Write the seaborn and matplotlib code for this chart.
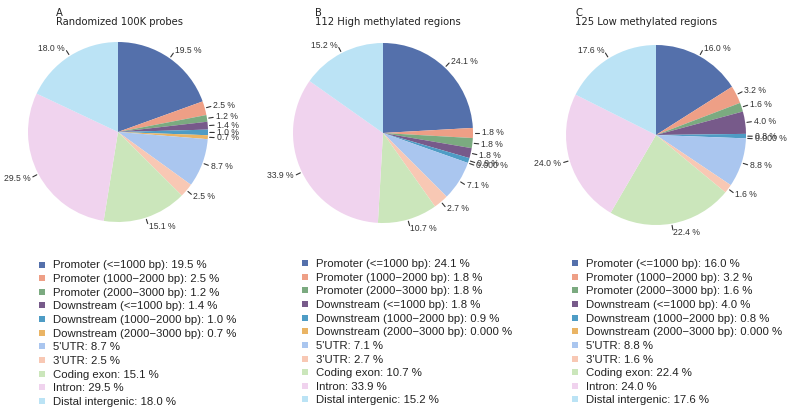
import numpy as np
import matplotlib
matplotlib.use("Agg")
import matplotlib.pyplot as plt
import seaborn as sns
from matplotlib.lines import Line2D

categories = [
    "Promoter (<=1000 bp)",
    "Promoter (1000\u22122000 bp)",
    "Promoter (2000\u22123000 bp)",
    "Downstream (<=1000 bp)",
    "Downstream (1000\u22122000 bp)",
    "Downstream (2000\u22123000 bp)",
    "5'UTR",
    "3'UTR",
    "Coding exon",
    "Intron",
    "Distal intergenic",
]
values_a = [19.5, 2.5, 1.2, 1.4, 1.0, 0.7, 8.7, 2.5, 15.1, 29.5, 18.0]
labels_a = ["19.5", "2.5", "1.2", "1.4", "1.0", "0.7", "8.7", "2.5", "15.1", "29.5", "18.0"]
values_b = [24.1, 1.8, 1.8, 1.8, 0.9, 0.0, 7.1, 2.7, 10.7, 33.9, 15.2]
labels_b = ["24.1", "1.8", "1.8", "1.8", "0.9", "0.000", "7.1", "2.7", "10.7", "33.9", "15.2"]
values_c = [16.0, 3.2, 1.6, 4.0, 0.8, 0.0, 8.8, 1.6, 22.4, 24.0, 17.6]
labels_c = ["16.0", "3.2", "1.6", "4.0", "0.8", "0.000", "8.8", "1.6", "22.4", "24.0", "17.6"]
panel_letters = ["A", "B", "C"]
panel_titles = ["Randomized 100K probes", "112 High methylated regions", "125 Low methylated regions"]

colors = ["#5470AB", "#EE9F86", "#7BAA80", "#775A8A", "#4E9CC5", "#EAB464",
          "#AAC6EF", "#F8C8B4", "#CBE6BB", "#F0D3EE", "#BBE3F5"]

sns.set_theme(style="white")
plt.rcParams['font.family'] = ['Liberation Sans', 'DejaVu Sans']
palette = sns.color_palette(colors)

W, H = 791, 409
fig = plt.figure(figsize=(W / 100, H / 100), dpi=100)

centers = [(118, 132), (383, 133), (656, 135)]
R = 90
title_x = [56, 315, 575]
legend_pos = [(37.5, 260.5), (300.5, 259), (570.5, 259)]

datasets = [(values_a, labels_a), (values_b, labels_b), (values_c, labels_c)]

for k, ((vals, labs), (cx, cy)) in enumerate(zip(datasets, centers)):
    ax = fig.add_axes([(cx - R) / W, (H - cy - R) / H, 2 * R / W, 2 * R / H])
    wedges, _ = ax.pie(vals, colors=palette, startangle=90, counterclock=False,
                       radius=1.0, wedgeprops=dict(linewidth=0))
    ax.set_xlim(-1, 1)
    ax.set_ylim(-1, 1)
    ax.set_aspect('auto')
    ax.axis('off')
    for w, lab in zip(wedges, labs):
        ang = np.deg2rad((w.theta1 + w.theta2) / 2)
        c, s = np.cos(ang), np.sin(ang)
        ax.plot([1.02 * c, 1.07 * c], [1.02 * s, 1.07 * s], color="#333333",
                lw=0.8, clip_on=False)
        ax.text(1.10 * c, 1.10 * s, lab + " %", fontsize=6.2, color="#333333",
                ha='left' if c >= 0 else 'right', va='center', clip_on=False)

    fig.text(title_x[k] / W, 1 - 13 / H, panel_letters[k], fontsize=7.2,
             family='DejaVu Sans', ha='left', va='center', color="#222222")
    fig.text(title_x[k] / W, 1 - 22 / H, panel_titles[k], fontsize=7.2,
             family='DejaVu Sans', ha='left', va='center', color="#222222")

    handles = [Line2D([0], [0], marker='s', linestyle='none', markersize=4.5,
                      markerfacecolor=palette[i], markeredgewidth=0)
               for i in range(len(categories))]
    leg_labels = [f"{cat}: {lab} %" for cat, lab in zip(categories, labs)]
    lx, ly = legend_pos[k]
    fig.legend(handles, leg_labels, loc='upper left',
               bbox_to_anchor=(lx / W, 1 - ly / H), frameon=False,
               fontsize=8.2, labelspacing=0.32, handlelength=0.8,
               handletextpad=0.56, borderaxespad=0, borderpad=0,
               labelcolor="#222222")

fig.savefig("out.png", dpi=100)
